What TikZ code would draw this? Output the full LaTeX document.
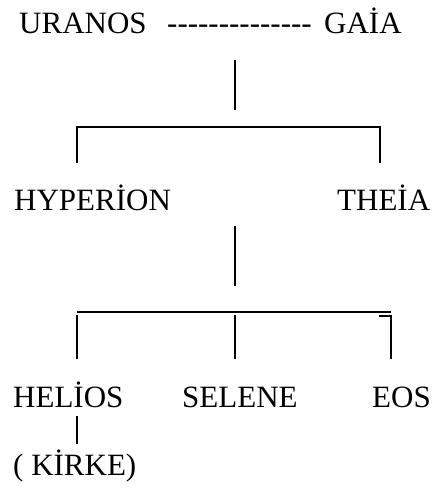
\documentclass[tikz,border=0pt]{standalone}
\usepackage{fontspec}
\setmainfont{Liberation Serif}
\begin{document}
\begin{tikzpicture}[x=1pt,y=-1pt,
  lbl/.style={anchor=base west, inner sep=0pt, font=\fontsize{31}{36}\selectfont},
  conn/.style={line width=1.3pt, line cap=rect},
  bar/.style={line width=2pt}]
\useasboundingbox (0,0) rectangle (445,498);
% names
\node[lbl] (uranos) at (19,33) {URANOS};
\node[lbl] (dash) at (167,33) {-{}-{}-{}-{}-{}-{}-{}-{}-{}-{}-{}-{}-{}-};
\node[lbl] (gaia) at (324,33) {GAİA};
\node[lbl] (hyperion) at (14,210) {HYPERİON};
\node[lbl] (theia) at (337,210) {THEİA};
\node[lbl] (helios) at (13,407) {HELİOS};
\node[lbl] (selene) at (182,407) {SELENE};
\node[lbl] (eos) at (372,407) {EOS};
\node[lbl] (kirke) at (13,475) {( KİRKE)};
% connector points
\coordinate (v1a) at (235,61);
\coordinate (v1b) at (235,109);
\coordinate (b1l) at (77,162);
\coordinate (b1lt) at (77,127);
\coordinate (b1rt) at (380,127);
\coordinate (b1r) at (380,162);
\coordinate (v2a) at (235,227);
\coordinate (v2b) at (235,285);
\coordinate (b2l) at (77,312);
\coordinate (b2r) at (391,312);
\coordinate (l1a) at (77,316);
\coordinate (l1b) at (77,358);
\coordinate (m1a) at (235,316);
\coordinate (m1b) at (235,358);
\coordinate (r1t) at (380,316);
\coordinate (r1a) at (391,316);
\coordinate (r1b) at (391,358);
\coordinate (v3a) at (77,417);
\coordinate (v3b) at (77,443);
% connectors
\draw[conn] (v1a) -- (v1b);
\draw[conn] (b1l) -- (b1lt) -- (b1rt) -- (b1r);
\draw[conn] (v2a) -- (v2b);
\draw[bar] (b2l) -- (b2r);
\draw[conn] (l1a) -- (l1b);
\draw[conn] (m1a) -- (m1b);
\draw[conn] (r1t) -- (r1a) -- (r1b);
\draw[conn] (v3a) -- (v3b);
\end{tikzpicture}
\end{document}
